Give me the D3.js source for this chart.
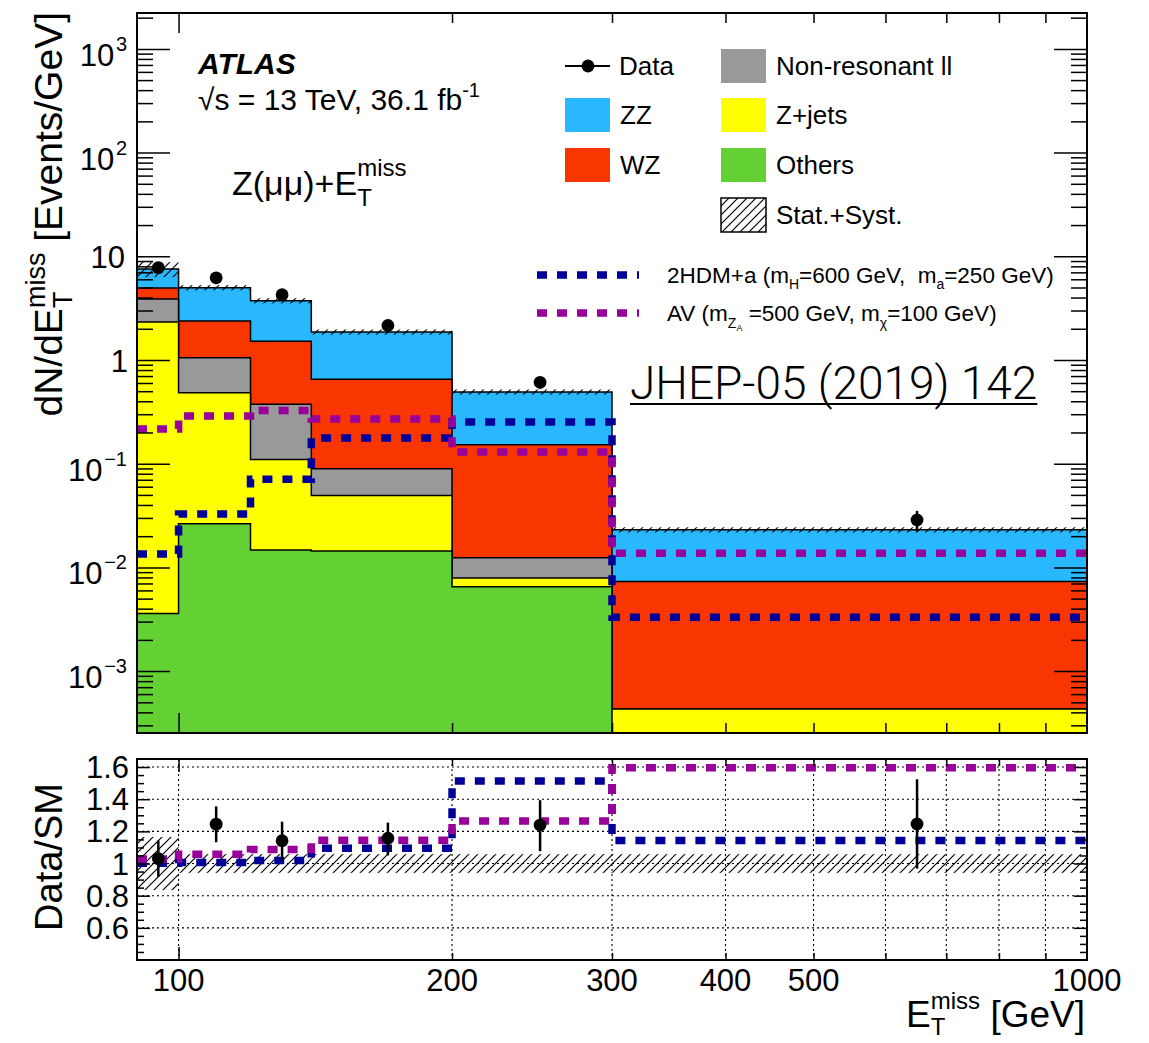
<!DOCTYPE html>
<html>
<head>
<meta charset="utf-8">
<script src="https://cdn.jsdelivr.net/npm/d3@7"></script>
<style>
  body { margin: 0; background: #fff; }
  text { white-space: pre; }
</style>
</head>
<body>
<svg id="chart" width="1149" height="1043"></svg>
<script>
// ---- Binning (E_T^miss, GeV) ----
const binEdges = [90, 100, 120, 140, 200, 300, 1000];
const binCenters = [95, 110, 130, 170, 250, 650];

// ---- Background components, dN/dE [Events/GeV], stacked bottom to top ----
const others = [0.0036, 0.0263, 0.0147, 0.0144, 0.0065, 0.0001];
const zjets  = [2.316, 0.458, 0.095, 0.035, 0.0014, 0.00033];
const nonres = [1.55, 0.566, 0.264, 0.040, 0.0045, 0];
const wz     = [1.08, 1.33, 1.146, 0.562, 0.140, 0.0069];
const zz     = [2.59, 2.60, 2.21, 1.21, 0.339, 0.0157];

// relative Stat.+Syst. uncertainty on the total background
const bkgRelUnc = [0.165, 0.058, 0.058, 0.058, 0.058, 0.058];

// ---- Data ----
const dataVals    = [7.77, 6.20, 4.26, 2.155, 0.609, 0.0287];
const dataErrUp   = [0.85, 0.55, 0.44, 0.18, 0.076, 0.0064];
const dataErrDown = [0.85, 0.56, 0.46, 0.20, 0.080, 0.0064];

// ---- Signal hypotheses ----
const sig2hdm = [0.0135, 0.0327, 0.0707, 0.177, 0.252, 0.0033];
const sigAV   = [0.216, 0.288, 0.325, 0.270, 0.130, 0.0137];

// ---- Axis ticks ----
const yMajorTicks = [1e-3, 1e-2, 1e-1, 1, 10, 100, 1000];
const yTickBase   = ["10", "10", "10", "1", "10", "10", "10"];
const yTickExp    = ["\u22123", "\u22122", "\u22121", "", "", "2", "3"];
const xTickValues = [100, 200, 300, 400, 500, 1000];
const xTickLabels = ["100", "200", "300", "400", "500", "1000"];
const ratioTicks  = [0.6, 0.8, 1.0, 1.2, 1.4, 1.6];
const ratioTickLabels = ["0.6", "0.8", "1", "1.2", "1.4", "1.6"];

// ---- Layout ----
const FONT = "'Liberation Sans', Arial, Helvetica, sans-serif";
const L = 137, R = 1087, T1 = 13, B1 = 733, T2 = 759, B2 = 960;

const x  = d3.scaleLog().domain([90, 1000]).range([L, R]);
const y  = d3.scaleLog().domain([2.53e-4, 2218]).range([B1, T1]).clamp(true);
const yr = d3.scaleLinear().domain([0.4, 1.65]).range([B2, T2]).clamp(true);
const yv = v => y(Math.max(v, 1e-9));

const svg = d3.select("#chart");
svg.append("rect").attr("width", 1149).attr("height", 1043).attr("fill", "#fff");

const defs = svg.append("defs");
const hatch = defs.append("pattern").attr("id", "hatch")
  .attr("patternUnits", "userSpaceOnUse").attr("width", 9).attr("height", 9);
hatch.append("path").attr("d", "M-1,10 L10,-1 M-1,1 L1,-1 M8,10 L10,8")
  .attr("stroke", "#000").attr("stroke-width", 1.2).attr("fill", "none");
defs.append("clipPath").attr("id", "clipTop").append("rect")
  .attr("x", L).attr("y", T1).attr("width", R - L).attr("height", B1 - T1);
defs.append("clipPath").attr("id", "clipBot").append("rect")
  .attr("x", L).attr("y", T2).attr("width", R - L).attr("height", B2 - T2);

// Text with sub/superscripts. segs: {t, size, dy, stack}
function rich(parent, px, py, segs, anchor = "start", rotate = 0) {
  const g = parent.append("g");
  let cx = 0, lastStart = 0;
  segs.forEach(s => {
    const t = g.append("text")
      .attr("y", s.dy || 0)
      .style("font-family", s.family || FONT)
      .style("font-size", s.size + "px")
      .style("font-weight", s.weight || "normal")
      .style("font-style", s.italic ? "italic" : "normal")
      .attr("fill", "#000")
      .text(s.t);
    const w = t.node().getComputedTextLength();
    if (s.stack) {
      t.attr("x", lastStart);
      cx = Math.max(cx, lastStart + w);
    } else {
      t.attr("x", cx);
      lastStart = cx;
      cx = cx + w;
    }
  });
  const off = anchor === "end" ? -cx : anchor === "middle" ? -cx / 2 : 0;
  g.attr("transform", `translate(${px},${py}) rotate(${rotate}) translate(${off},0)`);
  return { g, width: cx };
}

// ================= Upper panel =================
const upper = svg.append("g");
const plotTop = upper.append("g").attr("clip-path", "url(#clipTop)");

const components = [
  { name: "Others", vals: others, color: "#63d134" },
  { name: "Z+jets", vals: zjets, color: "#ffff00" },
  { name: "Non-resonant ll", vals: nonres, color: "#999999" },
  { name: "WZ", vals: wz, color: "#f93600" },
  { name: "ZZ", vals: zz, color: "#29b7fe" }
];
let running = binEdges.slice(0, -1).map(() => 0);
components.forEach(c => {
  running = running.map((r, i) => r + c.vals[i]);
  c.cum = running.slice();
});
const totalBkg = components[components.length - 1].cum;

function stackPath(cum) {
  let d = `M${x(binEdges[0])},${B1}`;
  cum.forEach((v, i) => {
    d += `L${x(binEdges[i])},${yv(v)}L${x(binEdges[i + 1])},${yv(v)}`;
  });
  d += `L${x(binEdges[binEdges.length - 1])},${B1}Z`;
  return d;
}
components.slice().reverse().forEach(c => {
  plotTop.append("path").attr("d", stackPath(c.cum))
    .attr("fill", c.color).attr("stroke", "#000").attr("stroke-width", 1.5)
    .attr("stroke-linejoin", "miter");
});

// uncertainty band
plotTop.selectAll(".unc").data(totalBkg).join("rect")
  .attr("x", (d, i) => x(binEdges[i]))
  .attr("width", (d, i) => x(binEdges[i + 1]) - x(binEdges[i]))
  .attr("y", (d, i) => yv(d * (1 + bkgRelUnc[i])))
  .attr("height", (d, i) => yv(d * (1 - bkgRelUnc[i])) - yv(d * (1 + bkgRelUnc[i])))
  .attr("fill", "url(#hatch)");

// signal step lines
function stepPoints(vals) {
  const pts = [];
  vals.forEach((v, i) => { pts.push([binEdges[i], v]); pts.push([binEdges[i + 1], v]); });
  return pts;
}
const sigStyles = [
  { vals: sig2hdm, color: "#000099" },
  { vals: sigAV, color: "#990099" }
];
const lineTop = d3.line().x(d => x(d[0])).y(d => yv(d[1]));
sigStyles.forEach(s => {
  plotTop.append("path").attr("d", lineTop(stepPoints(s.vals)))
    .attr("fill", "none").attr("stroke", s.color).attr("stroke-width", 7.5)
    .attr("stroke-dasharray", "10,10");
});

// data
const dataG = plotTop.append("g");
dataVals.forEach((v, i) => {
  dataG.append("line").attr("x1", x(binCenters[i])).attr("x2", x(binCenters[i]))
    .attr("y1", yv(v + dataErrUp[i])).attr("y2", yv(v - dataErrDown[i]))
    .attr("stroke", "#000").attr("stroke-width", 2.5);
  dataG.append("circle").attr("cx", x(binCenters[i])).attr("cy", yv(v))
    .attr("r", 6.4).attr("fill", "#000");
});

// frame & ticks
function styleAxis(g) {
  g.select(".domain").remove();
  g.selectAll(".tick line").attr("stroke", "#000").attr("stroke-width", 1.5);
  g.selectAll(".tick text").remove();
}
const yMinor = [];
for (let e = -4; e <= 3; e++) for (let m = 2; m <= 9; m++) {
  const v = m * Math.pow(10, e);
  if (v > 2.53e-4 && v < 2218) yMinor.push(v);
}
upper.append("g").attr("transform", `translate(${L},0)`)
  .call(d3.axisRight(y).tickValues(yMajorTicks).tickSize(33)).call(styleAxis);
upper.append("g").attr("transform", `translate(${L},0)`)
  .call(d3.axisRight(y).tickValues(yMinor).tickSize(16)).call(styleAxis);
upper.append("g").attr("transform", `translate(${R},0)`)
  .call(d3.axisLeft(y).tickValues(yMajorTicks).tickSize(33)).call(styleAxis);
upper.append("g").attr("transform", `translate(${R},0)`)
  .call(d3.axisLeft(y).tickValues(yMinor).tickSize(16)).call(styleAxis);

const xMinor = [200, 300, 400, 500, 600, 700, 800, 900];
upper.append("g").attr("transform", `translate(0,${B1})`)
  .call(d3.axisTop(x).tickValues([100]).tickSize(20)).call(styleAxis);
upper.append("g").attr("transform", `translate(0,${B1})`)
  .call(d3.axisTop(x).tickValues(xMinor).tickSize(10)).call(styleAxis);
upper.append("g").attr("transform", `translate(0,${T1})`)
  .call(d3.axisBottom(x).tickValues([100]).tickSize(20)).call(styleAxis);
upper.append("g").attr("transform", `translate(0,${T1})`)
  .call(d3.axisBottom(x).tickValues(xMinor).tickSize(10)).call(styleAxis);

upper.append("rect").attr("x", L).attr("y", T1).attr("width", R - L).attr("height", B1 - T1)
  .attr("fill", "none").attr("stroke", "#000").attr("stroke-width", 2);

// y tick labels
yMajorTicks.forEach((v, i) => {
  const ty = y(v);
  if (yTickExp[i]) {
    rich(svg, 127, ty + 17, [{ t: yTickBase[i], size: 31 }, { t: " ", size: 6 },
      { t: yTickExp[i], size: 20, dy: -15 }], "end");
  } else {
    rich(svg, yTickBase[i] === "1" ? 128 : 125, ty + 12, [{ t: yTickBase[i], size: 31 }], "end");
  }
});

// y title
rich(svg, 62, 12, [
  { t: "dN/dE", size: 39 },
  { t: "T", size: 27, dy: 10 },
  { t: "miss", size: 27, dy: -17, stack: true },
  { t: " [Events/GeV]", size: 39 }
], "end", -90);

// labels
rich(svg, 198, 74, [{ t: "ATLAS", size: 30, weight: "bold", italic: true }]);
rich(svg, 198, 110, [
  { t: "\u221As = 13 TeV, 36.1 fb", size: 30 },
  { t: "-1", size: 20, dy: -13 }
]);
rich(svg, 232, 195, [
  { t: "Z(\u03BC\u03BC)+E", size: 34 },
  { t: "T", size: 24, dy: 11 },
  { t: "miss", size: 24, dy: -19, stack: true }
]);

// JHEP reference
const jr = rich(svg, 630, 399, [{ t: "JHEP-05 (2019) 142", size: 46, weight: 300,
  family: "'Roboto Light', 'Lato Light', Roboto, 'Liberation Sans', sans-serif" }]);
svg.append("line").attr("x1", 630).attr("x2", 630 + jr.width).attr("y1", 404).attr("y2", 404)
  .attr("stroke", "#000").attr("stroke-width", 2);

// legend
const leg = svg.append("g");
leg.append("line").attr("x1", 565).attr("x2", 610).attr("y1", 66).attr("y2", 66)
  .attr("stroke", "#000").attr("stroke-width", 2);
leg.append("circle").attr("cx", 588).attr("cy", 66).attr("r", 6.4).attr("fill", "#000");
rich(leg, 619, 75, [{ t: "Data", size: 26 }]);
const legBoxes = [
  { c: components[4], x: 565, y: 98, label: "ZZ" },
  { c: components[3], x: 565, y: 148, label: "WZ" },
  { c: components[2], x: 721, y: 49, label: "Non-resonant ll" },
  { c: components[1], x: 721, y: 98, label: "Z+jets" },
  { c: components[0], x: 721, y: 148, label: "Others" }
];
legBoxes.forEach(b => {
  leg.append("rect").attr("x", b.x).attr("y", b.y).attr("width", 45).attr("height", 34)
    .attr("fill", b.c.color);
  rich(leg, b.x + 55, b.y + 26, [{ t: b.label, size: 26 }]);
});
leg.append("rect").attr("x", 721).attr("y", 198).attr("width", 45).attr("height", 34)
  .attr("fill", "url(#hatch)").attr("stroke", "#000").attr("stroke-width", 1.5);
rich(leg, 776, 224, [{ t: "Stat.+Syst.", size: 26 }]);

[["#000099", 275], ["#990099", 313]].forEach(([c, ly]) => {
  leg.append("line").attr("x1", 537).attr("x2", 639).attr("y1", ly).attr("y2", ly)
    .attr("stroke", c).attr("stroke-width", 7.5).attr("stroke-dasharray", "10,10");
});
rich(leg, 667, 283, [
  { t: "2HDM+a (m", size: 22.5 }, { t: "H", size: 14, dy: 6 },
  { t: "=600 GeV,  m", size: 22.5 }, { t: "a", size: 14, dy: 6 },
  { t: "=250 GeV)", size: 22.5 }
]);
rich(leg, 667, 321, [
  { t: "AV (m", size: 22.5 }, { t: "Z", size: 14, dy: 7 }, { t: "A", size: 9, dy: 10 },
  { t: " =500 GeV, m", size: 22.5 }, { t: "\u03C7", size: 14, dy: 7 },
  { t: "=100 GeV)", size: 22.5 }
]);

// ================= Ratio panel =================
const bot = svg.append("g");
const plotBot = bot.append("g").attr("clip-path", "url(#clipBot)");

// grid
const gridX = [100, 200, 300, 400, 500, 600, 700, 800, 900];
plotBot.selectAll(".gx").data(gridX).join("line")
  .attr("x1", d => x(d)).attr("x2", d => x(d)).attr("y1", T2).attr("y2", B2)
  .attr("stroke", "#000").attr("stroke-width", 1.1).attr("stroke-dasharray", "2,3");
plotBot.selectAll(".gy").data(ratioTicks).join("line")
  .attr("x1", L).attr("x2", R).attr("y1", d => yr(d)).attr("y2", d => yr(d))
  .attr("stroke", "#000").attr("stroke-width", 1.1).attr("stroke-dasharray", "2,3");

// uncertainty band
plotBot.selectAll(".uncr").data(bkgRelUnc).join("rect")
  .attr("x", (d, i) => x(binEdges[i]))
  .attr("width", (d, i) => x(binEdges[i + 1]) - x(binEdges[i]))
  .attr("y", d => yr(1 + d))
  .attr("height", d => yr(1 - d) - yr(1 + d))
  .attr("fill", "url(#hatch)");

// signal ratios: (SM + signal) / SM
const lineBot = d3.line().x(d => x(d[0])).y(d => yr(d[1]));
sigStyles.forEach(s => {
  const r = s.vals.map((v, i) => 1 + v / totalBkg[i]);
  plotBot.append("path").attr("d", lineBot(stepPoints(r)))
    .attr("fill", "none").attr("stroke", s.color).attr("stroke-width", 7.5)
    .attr("stroke-dasharray", "10,10");
});

// data / SM
dataVals.forEach((v, i) => {
  const sm = totalBkg[i];
  plotBot.append("line").attr("x1", x(binCenters[i])).attr("x2", x(binCenters[i]))
    .attr("y1", yr((v + dataErrUp[i]) / sm)).attr("y2", yr((v - dataErrDown[i]) / sm))
    .attr("stroke", "#000").attr("stroke-width", 2.5);
  plotBot.append("circle").attr("cx", x(binCenters[i])).attr("cy", yr(v / sm))
    .attr("r", 6.4).attr("fill", "#000");
});

// ticks
const rMinor = d3.range(0.45, 1.65, 0.05).filter(v => !ratioTicks.some(t => Math.abs(t - v) < 1e-6));
bot.append("g").attr("transform", `translate(${L},0)`)
  .call(d3.axisRight(yr).tickValues(ratioTicks).tickSize(13)).call(styleAxis);
bot.append("g").attr("transform", `translate(${L},0)`)
  .call(d3.axisRight(yr).tickValues(rMinor).tickSize(7)).call(styleAxis);
bot.append("g").attr("transform", `translate(${R},0)`)
  .call(d3.axisLeft(yr).tickValues(ratioTicks).tickSize(13)).call(styleAxis);
bot.append("g").attr("transform", `translate(${R},0)`)
  .call(d3.axisLeft(yr).tickValues(rMinor).tickSize(7)).call(styleAxis);
bot.append("g").attr("transform", `translate(0,${B2})`)
  .call(d3.axisTop(x).tickValues([100]).tickSize(13)).call(styleAxis);
bot.append("g").attr("transform", `translate(0,${B2})`)
  .call(d3.axisTop(x).tickValues(xMinor).tickSize(7)).call(styleAxis);
bot.append("g").attr("transform", `translate(0,${T2})`)
  .call(d3.axisBottom(x).tickValues([100]).tickSize(13)).call(styleAxis);
bot.append("g").attr("transform", `translate(0,${T2})`)
  .call(d3.axisBottom(x).tickValues(xMinor).tickSize(7)).call(styleAxis);

bot.append("rect").attr("x", L).attr("y", T2).attr("width", R - L).attr("height", B2 - T2)
  .attr("fill", "none").attr("stroke", "#000").attr("stroke-width", 2);

// ratio y labels
ratioTicks.forEach((v, i) => {
  rich(svg, 129, yr(v) + 11, [{ t: ratioTickLabels[i], size: 31 }], "end");
});
rich(svg, 62, 857, [{ t: "Data/SM", size: 38 }], "middle", -90);

// x labels
xTickValues.forEach((v, i) => {
  rich(svg, x(v), 991, [{ t: xTickLabels[i], size: 31 }], "middle");
});
rich(svg, 1085, 1027, [
  { t: "E", size: 37 },
  { t: "T", size: 24, dy: 8 },
  { t: "miss", size: 24, dy: -18, stack: true },
  { t: " [GeV]", size: 37 }
], "end");
</script>
</body>
</html>
